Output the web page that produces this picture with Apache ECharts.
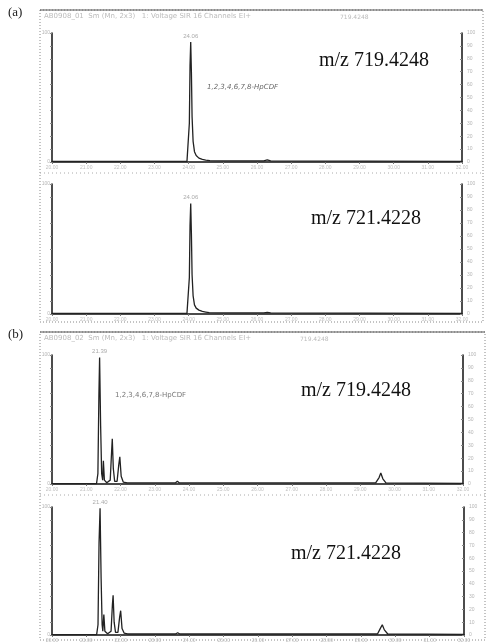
<!DOCTYPE html>
<html><head><meta charset="utf-8">
<style>html,body{margin:0;padding:0;background:#fff}#c{width:486px;height:643px}</style>
<script src="https://cdn.jsdelivr.net/npm/echarts@6/dist/echarts.min.js"></script>
</head><body><div id="c"></div>
<script>
// ---- data (retention time in min, relative intensity %) ----
const panelLabels = ['(a)', '(b)'];
const massLabels = ['m/z 719.4248', 'm/z 721.4228', 'm/z 719.4248', 'm/z 721.4228'];
const compound = '1,2,3,4,6,7,8-HpCDF';
const headerA = 'AB0908_01  Sm (Mn, 2x3)   1: Voltage SIR 16 Channels EI+';
const headerB = 'AB0908_02  Sm (Mn, 2x3)   1: Voltage SIR 16 Channels EI+';
const xTicksMin = 20, xTicksMax = 32;

const trA1 = [[20.0,0.5],[23.95,0.5],[24.00,2],[24.02,30],[24.04,75],[24.06,93],[24.08,70],[24.10,35],[24.13,16],[24.17,8],[24.22,5],[24.30,3],[24.40,2],[24.50,1.5],[24.55,2.2],[24.62,1],[25.00,0.8],[26.20,0.8],[26.30,1.6],[26.40,0.8],[32.0,0.5]];
const trA2 = [[20.0,0.5],[23.95,0.5],[24.00,2],[24.02,28],[24.04,68],[24.06,85],[24.08,62],[24.10,30],[24.13,14],[24.17,7],[24.22,4.5],[24.30,3],[24.40,2],[24.50,1.5],[24.60,1],[25.00,0.8],[26.20,0.8],[26.30,1.3],[26.40,0.8],[32.0,0.5]];
const trB1 = [[20.0,0.3],[21.30,0.3],[21.34,8],[21.37,70],[21.39,98],[21.42,45],[21.45,8],[21.48,3],[21.50,18],[21.53,3],[21.60,1],[21.70,3],[21.74,25],[21.76,35],[21.79,12],[21.83,2],[21.90,2],[21.95,15],[21.98,21],[22.02,6],[22.08,1.5],[22.20,0.8],[23.60,0.8],[23.66,2.2],[23.72,0.8],[29.45,0.8],[29.55,5],[29.60,8.5],[29.66,4],[29.75,0.8],[32.0,0.5]];
const trB2 = [[20.0,0.3],[21.30,0.3],[21.34,8],[21.37,72],[21.40,99],[21.43,45],[21.46,8],[21.48,3],[21.51,16],[21.54,3],[21.62,1],[21.72,3],[21.76,24],[21.78,31],[21.81,10],[21.85,2],[21.92,2],[21.97,14],[22.00,19],[22.04,5],[22.10,1.5],[22.20,0.8],[23.60,0.8],[23.66,1.8],[23.72,0.8],[29.48,0.8],[29.56,5],[29.62,8],[29.68,4],[29.78,0.8],[32.0,0.5]];
const peakTops = [[24.06,93],[24.06,85],[21.39,98],[21.40,99]];
const peakTimes = ['24.06','24.06','21.39','21.40'];
const traces = [trA1, trA2, trB1, trB2];

// ---- layout ----
const grids = [
  {left:52, right:24, top:33, height:129},
  {left:52, right:24, top:184, height:130},
  {left:52, right:23, top:355, height:129},
  {left:52, right:22, top:507, height:128}
];
const chart = echarts.init(document.getElementById('c'), null, {renderer:'canvas'});
const faint = '#b5b5b5';
const xAxes = [], yAxes = [], series = [];
grids.forEach((g, i) => {
  xAxes.push({type:'value', gridIndex:i, min:xTicksMin, max:xTicksMax, interval:1,
    axisLine:{show:true, lineStyle:{color:'#111', width:1.5}},
    axisTick:{show:true, length:2, lineStyle:{color:'#777'}},
    axisLabel:{show:true, fontSize:5, color:'#c0c0c0', margin:3, formatter:v=>v.toFixed(2)},
    splitLine:{show:false}});
  yAxes.push({type:'value', gridIndex:i, min:0, max:100, interval:10, position:'left',
    axisLine:{show:true, lineStyle:{color:'#111', width:1.5}},
    axisTick:{show:true, length:2, lineStyle:{color:'#888'}},
    axisLabel:{show:true, fontSize:5, color:faint, margin:2, formatter:v=>v===100?'100':(v===0?'0':'')},
    splitLine:{show:false}});
  yAxes.push({type:'value', gridIndex:i, min:0, max:100, interval:10, position:'right',
    axisLine:{show:true, lineStyle:{color:'#111', width:1.5}},
    axisTick:{show:true, length:2, inside:true, lineStyle:{color:'#888'}},
    axisLabel:{show:true, fontSize:5, color:faint, margin:5},
    splitLine:{show:false}});
  series.push({type:'line', xAxisIndex:i, yAxisIndex:i*2, data:traces[i], showSymbol:false,
    symbol:'none', lineStyle:{color:'#222', width:1.3}, animation:false,
    markPoint:{symbol:'circle', symbolSize:0, animation:false,
      data:[{coord:peakTops[i], value:peakTimes[i]}],
      label:{show:true, position:'top', distance:3, fontSize:6, color:'#aaa', formatter:'{c}'}}});
});

const serif = '"Liberation Serif","DejaVu Serif",serif';
const graphic = [
  {type:'rect', shape:{x:40, y:10, width:443, height:312}, style:{fill:null, stroke:'#888', lineWidth:1, lineDash:[1,2]}},
  {type:'line', shape:{x1:40, y1:10, x2:483, y2:10}, style:{stroke:'#555', lineWidth:1}},
  {type:'line', shape:{x1:40, y1:173, x2:483, y2:173}, style:{stroke:'#aaa', lineWidth:1, lineDash:[1,3]}},
  {type:'rect', shape:{x:40, y:332, width:445, height:308}, style:{fill:null, stroke:'#888', lineWidth:1, lineDash:[1,2]}},
  {type:'line', shape:{x1:40, y1:332, x2:485, y2:332}, style:{stroke:'#555', lineWidth:1}},
  {type:'line', shape:{x1:40, y1:495, x2:485, y2:495}, style:{stroke:'#aaa', lineWidth:1, lineDash:[1,3]}},
  {type:'text', left:8, top:6, style:{text:panelLabels[0], font:'13px '+serif, fill:'#222'}},
  {type:'text', left:8, top:328, style:{text:panelLabels[1], font:'13px '+serif, fill:'#222'}},
  {type:'text', left:44, top:13, style:{text:headerA, font:'7px "DejaVu Sans"', fill:'#bbb'}},
  {type:'text', left:44, top:335, style:{text:headerB, font:'7px "DejaVu Sans"', fill:'#bbb'}},
  {type:'text', left:340, top:14, style:{text:'719.4248', font:'6px "DejaVu Sans"', fill:'#bbb'}},
  {type:'text', left:300, top:336, style:{text:'719.4248', font:'6px "DejaVu Sans"', fill:'#bbb'}},
  {type:'text', left:319, top:51, style:{text:massLabels[0], font:'20px '+serif, fill:'#111'}},
  {type:'text', left:311, top:209, style:{text:massLabels[1], font:'20px '+serif, fill:'#111'}},
  {type:'text', left:301, top:381, style:{text:massLabels[2], font:'20px '+serif, fill:'#111'}},
  {type:'text', left:291, top:544, style:{text:massLabels[3], font:'20px '+serif, fill:'#111'}},
  {type:'text', left:207, top:84, style:{text:compound, font:'italic 7px "DejaVu Sans"', fill:'#666'}},
  {type:'text', left:115, top:392, style:{text:compound, font:'7px "DejaVu Sans"', fill:'#777'}}
];

chart.setOption({
  animation:false,
  backgroundColor:'#fff',
  grid: grids,
  xAxis: xAxes,
  yAxis: yAxes,
  series: series,
  graphic: graphic
});
</script></body></html>
